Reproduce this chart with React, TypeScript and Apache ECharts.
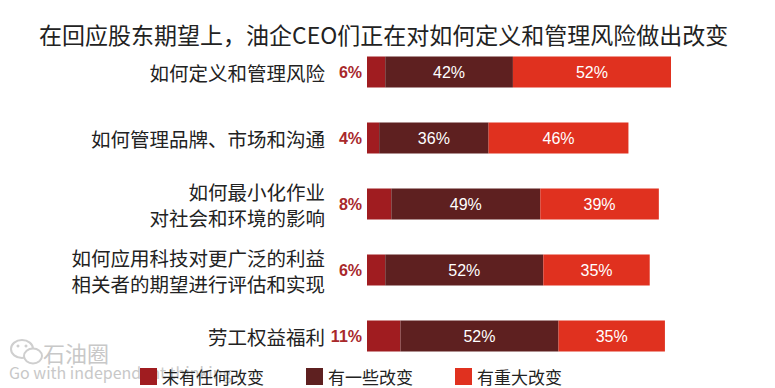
import React, { useEffect, useRef } from "react";
import * as echarts from "echarts";

const titleText = "在回应股东期望上，油企CEO们正在对如何定义和管理风险做出改变";
const categories = [
  "如何定义和管理风险",
  "如何管理品牌、市场和沟通",
  "如何最小化作业\n对社会和环境的影响",
  "如何应用科技对更广泛的利益\n相关者的期望进行评估和实现",
  "劳工权益福利",
];
const seriesNames = ["未有任何改变", "有一些改变", "有重大改变"];
const noChange = [6, 4, 8, 6, 11];
const someChange = [42, 36, 49, 52, 52];
const majorChange = [52, 46, 39, 35, 35];
const colors = ["#a01c20", "#5e2020", "#e0311f"];

const CJK = '"Noto Sans CJK SC", "Noto Sans", sans-serif';
const NUM = '"Liberation Sans", Arial, sans-serif';

export default function App() {
  const ref = useRef<HTMLDivElement>(null);
  useEffect(() => {
    document.body.style.margin = "0";
    if (!ref.current) return;
    const chart = echarts.init(ref.current, null, { renderer: "svg" });
    const values = [noChange, someChange, majorChange];
    chart.setOption({
      animation: false,
      backgroundColor: "#ffffff",
      title: {
        text: titleText,
        left: 34,
        top: 17,
        textStyle: { fontFamily: CJK, fontSize: 23, fontWeight: "normal", color: "#222" },
      },
      legend: {
        left: 135,
        top: 363,
        itemWidth: 17,
        itemHeight: 17,
        itemGap: 42,
        icon: "rect",
        textStyle: { fontFamily: CJK, fontSize: 17, color: "#222" },
        data: seriesNames,
      },
      grid: { left: 367, width: 304, top: 39, height: 330, containLabel: false },
      xAxis: { type: "value", min: 0, max: 100, show: false },
      yAxis: {
        type: "category",
        data: categories,
        inverse: true,
        axisLine: { show: false },
        axisTick: { show: false },
        axisLabel: {
          margin: 42,
          fontFamily: CJK,
          fontSize: 19.5,
          lineHeight: 26,
          color: "#222",
          align: "right",
        },
      },
      graphic: [
        {
          type: "group",
          z: -10,
          children: [
            { type: "ellipse", shape: { cx: 22, cy: 349, rx: 11, ry: 9 }, style: { fill: "none", stroke: "#cfcfcf", lineWidth: 2 } },
            { type: "ellipse", shape: { cx: 33, cy: 356, rx: 9, ry: 7.5 }, style: { fill: "#fff", stroke: "#cfcfcf", lineWidth: 2 } },
            { type: "circle", shape: { cx: 18, cy: 346, r: 1.5 }, style: { fill: "#cfcfcf" } },
            { type: "circle", shape: { cx: 26, cy: 346, r: 1.5 }, style: { fill: "#cfcfcf" } },
            { type: "text", x: 43, y: 341, style: { text: "石油圈", fontFamily: CJK, fontSize: 22, fill: "#c8c8c8" } },
            { type: "text", x: 9, y: 364, style: { text: "Go with independent thinking", fontFamily: CJK, fontSize: 16, fill: "#c8c8c8" } },
          ],
        },
      ],
      series: seriesNames.map((name, i) => ({
        name,
        type: "bar",
        stack: "total",
        barWidth: 31,
        data: values[i],
        itemStyle: { color: colors[i] },
        label:
          i === 0
            ? {
                show: true,
                position: "left",
                distance: 5,
                formatter: "{c}%",
                fontFamily: NUM,
                fontSize: 16,
                fontWeight: "bold",
                color: "#a8282b",
              }
            : {
                show: true,
                position: "inside",
                formatter: "{c}%",
                fontFamily: NUM,
                fontSize: 16,
                color: "#ffffff",
              },
      })),
    });
    return () => chart.dispose();
  }, []);
  return <div ref={ref} style={{ width: 775, height: 388 }} />;
}
